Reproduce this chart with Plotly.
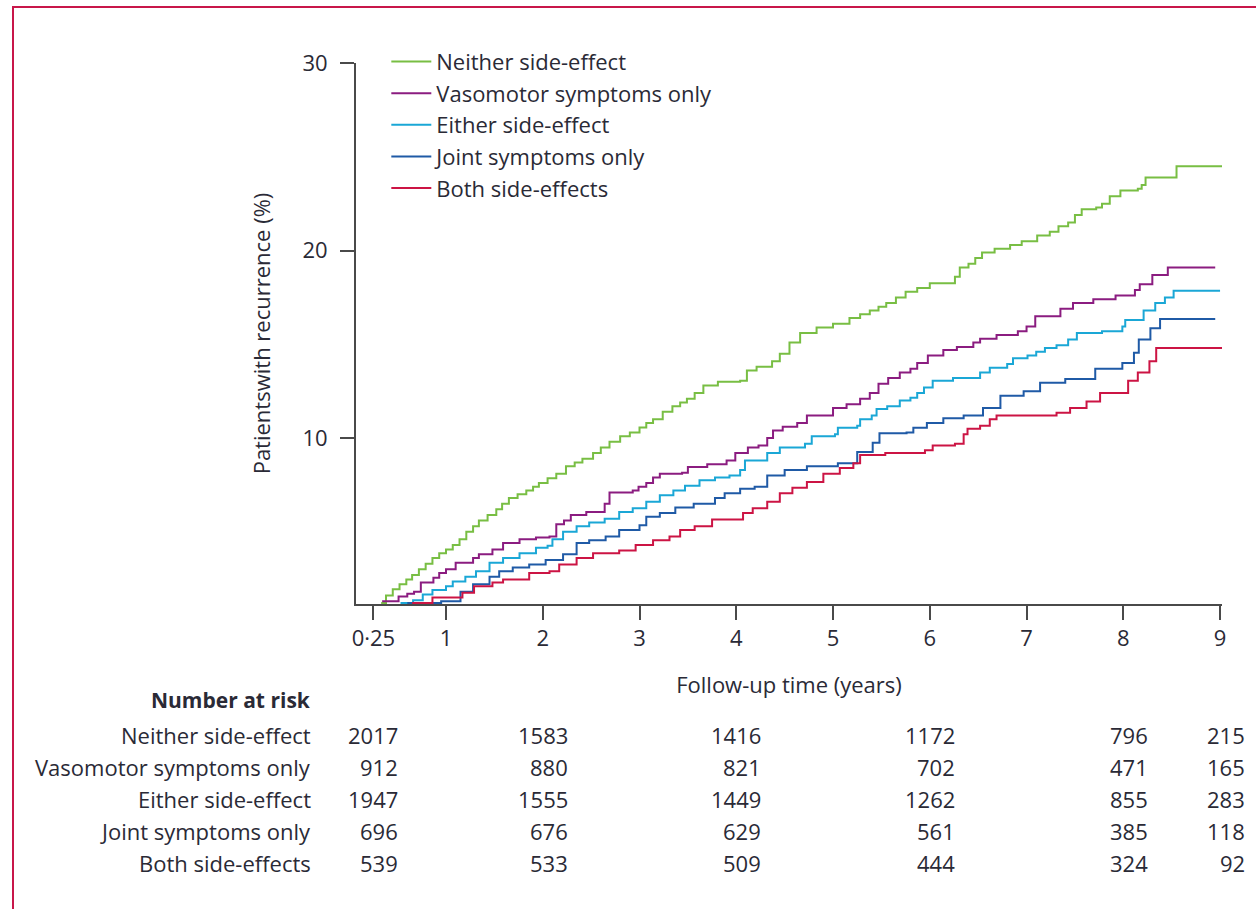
import plotly.graph_objects as go

# ---------------- data ----------------
series_names = ["Neither side-effect", "Vasomotor symptoms only", "Either side-effect",
                "Joint symptoms only", "Both side-effects"]
series_colors = ["#78BE43", "#8B1C80", "#1AA7D6", "#1F5AA6", "#CC1444"]

neither_t = [0.33, 0.38, 0.45, 0.52, 0.59, 0.65, 0.72, 0.79, 0.86, 0.93, 1.0, 1.07, 1.14, 1.21,
             1.28, 1.34, 1.43, 1.52, 1.58, 1.65, 1.74, 1.83, 1.90, 1.96, 2.05, 2.14, 2.24, 2.33,
             2.41, 2.52, 2.60, 2.69, 2.80, 2.90, 3.0, 3.07, 3.14, 3.24, 3.34, 3.42, 3.49, 3.57,
             3.66, 3.81, 4.04, 4.11, 4.21, 4.37, 4.45, 4.55, 4.66, 4.83, 5.0, 5.17, 5.28, 5.38,
             5.47, 5.55, 5.65, 5.75, 5.87, 6.0, 6.26, 6.31, 6.40, 6.47, 6.54, 6.67, 6.83, 6.95,
             7.11, 7.24, 7.33, 7.43, 7.50, 7.57, 7.72, 7.78, 7.86, 7.97, 8.15, 8.19, 8.23, 8.55, 9.02]
neither_v = [1.2, 1.6, 1.93, 2.2, 2.45, 2.7, 3.0, 3.3, 3.6, 3.85, 4.05, 4.3, 4.6, 5.0, 5.3, 5.6,
             5.9, 6.2, 6.5, 6.8, 7.0, 7.2, 7.4, 7.6, 7.85, 8.1, 8.5, 8.7, 8.9, 9.2, 9.5, 9.8, 10.1,
             10.3, 10.56, 10.8, 11.0, 11.4, 11.7, 11.9, 12.1, 12.4, 12.8, 13.0, 13.06, 13.6, 13.8,
             14.1, 14.5, 15.1, 15.6, 15.9, 16.1, 16.4, 16.6, 16.8, 17.0, 17.2, 17.5, 17.8, 18.0,
             18.25, 18.6, 19.1, 19.3, 19.6, 19.9, 20.1, 20.3, 20.5, 20.8, 21.0, 21.3, 21.5, 21.9,
             22.2, 22.3, 22.5, 22.9, 23.2, 23.3, 23.5, 23.9, 24.5, 24.5]

vaso_t = [0.34, 0.51, 0.60, 0.67, 0.74, 0.87, 0.93, 1.0, 1.1, 1.28, 1.34, 1.48, 1.59, 1.76, 1.93,
          2.07, 2.14, 2.22, 2.29, 2.45, 2.64, 2.69, 2.93, 2.99, 3.07, 3.14, 3.21, 3.44, 3.5, 3.7,
          3.9, 3.99, 4.12, 4.23, 4.32, 4.38, 4.48, 4.63, 4.73, 5.0, 5.14, 5.28, 5.38, 5.47, 5.57,
          5.69, 5.8, 5.87, 5.98, 6.14, 6.28, 6.45, 6.52, 6.69, 6.91, 7.0, 7.09, 7.35, 7.48, 7.69,
          7.92, 8.12, 8.17, 8.3, 8.46, 8.95]
vaso_v = [1.3, 1.55, 1.7, 1.8, 2.3, 2.55, 2.8, 3.0, 3.35, 3.6, 3.8, 4.05, 4.4, 4.6, 4.7, 4.75,
          5.4, 5.6, 5.9, 6.05, 6.5, 7.1, 7.2, 7.4, 7.6, 7.9, 8.1, 8.15, 8.45, 8.6, 8.8, 9.2, 9.5,
          9.6, 10.0, 10.4, 10.6, 10.8, 11.2, 11.6, 11.8, 12.1, 12.4, 12.9, 13.2, 13.5, 13.7, 14.0,
          14.4, 14.7, 14.85, 15.1, 15.3, 15.5, 15.7, 15.95, 16.5, 16.9, 17.2, 17.4, 17.6, 17.9,
          18.2, 18.7, 19.1, 19.1]

either_t = [0.53, 0.66, 0.76, 0.86, 1.0, 1.07, 1.2, 1.31, 1.45, 1.59, 1.76, 1.93, 2.05, 2.1, 2.21,
            2.35, 2.48, 2.64, 2.79, 2.93, 3.07, 3.21, 3.35, 3.47, 3.62, 3.78, 3.93, 4.04, 4.09,
            4.32, 4.45, 4.71, 4.78, 5.02, 5.05, 5.25, 5.28, 5.4, 5.45, 5.56, 5.69, 5.8, 5.87, 5.94,
            6.03, 6.24, 6.52, 6.62, 6.8, 6.86, 7.01, 7.1, 7.19, 7.31, 7.43, 7.52, 7.78, 7.99, 8.02,
            8.21, 8.33, 8.43, 8.52, 9.0]
either_v = [1.2, 1.35, 1.65, 1.9, 2.1, 2.35, 2.6, 2.9, 3.35, 3.6, 3.85, 4.15, 4.25, 4.6, 5.0, 5.3,
            5.5, 5.7, 6.05, 6.25, 6.6, 6.95, 7.2, 7.45, 7.75, 7.9, 8.0, 8.3, 8.8, 9.2, 9.5, 9.7,
            10.1, 10.2, 10.55, 10.65, 11.0, 11.2, 11.55, 11.7, 12.0, 12.15, 12.4, 12.7, 13.05, 13.2,
            13.5, 13.75, 13.95, 14.25, 14.4, 14.6, 14.8, 14.95, 15.25, 15.6, 15.7, 15.95, 16.3,
            16.8, 17.2, 17.5, 17.85, 17.85]

joint_t = [0.60, 0.95, 1.15, 1.28, 1.45, 1.55, 1.69, 1.86, 2.03, 2.21, 2.35, 2.48, 2.65, 2.79,
           3.0, 3.07, 3.21, 3.37, 3.56, 3.78, 3.88, 4.04, 4.19, 4.32, 4.5, 4.73, 5.05, 5.25, 5.41,
           5.48, 5.76, 5.83, 5.97, 6.14, 6.35, 6.55, 6.73, 6.97, 7.14, 7.4, 7.71, 7.99, 8.11, 8.16,
           8.28, 8.38, 8.95]
joint_v = [1.2, 1.3, 1.8, 2.2, 2.6, 2.9, 3.1, 3.25, 3.5, 3.8, 4.4, 4.55, 4.75, 5.1, 5.35, 5.8,
           6.0, 6.3, 6.5, 6.8, 7.05, 7.3, 7.4, 8.0, 8.3, 8.5, 8.65, 9.25, 9.75, 10.25, 10.3, 10.55,
           10.8, 11.05, 11.2, 11.6, 12.25, 12.5, 12.95, 13.15, 13.7, 14.0, 14.55, 15.25, 15.85,
           16.35, 16.35]

both_t = [0.65, 0.86, 1.17, 1.29, 1.48, 1.59, 1.86, 2.07, 2.17, 2.35, 2.52, 2.79, 2.96, 3.14,
          3.31, 3.42, 3.57, 3.75, 4.07, 4.17, 4.32, 4.45, 4.58, 4.73, 4.9, 5.07, 5.21, 5.28, 5.54,
          5.95, 6.03, 6.26, 6.35, 6.39, 6.52, 6.62, 6.69, 7.31, 7.45, 7.62, 7.76, 8.05, 8.15, 8.27,
          8.34, 9.03]
both_v = [1.2, 1.5, 1.75, 2.1, 2.3, 2.45, 2.8, 2.9, 3.25, 3.6, 3.85, 4.0, 4.3, 4.55, 4.75, 5.1,
          5.3, 5.65, 6.0, 6.25, 6.6, 7.05, 7.35, 7.65, 8.1, 8.4, 8.65, 9.1, 9.2, 9.35, 9.6, 9.7,
          10.2, 10.5, 10.65, 11.0, 11.2, 11.35, 11.6, 11.95, 12.4, 13.05, 13.5, 14.1, 14.8, 14.8]

x_tickvals = [0.25, 1, 2, 3, 4, 5, 6, 7, 8, 9]
x_ticktext = ["0·25", "1", "2", "3", "4", "5", "6", "7", "8", "9"]
y_tickvals = [10, 20, 30]

risk_times = [0.25, 2, 4, 6, 8, 9]
risk_neither = [2017, 1583, 1416, 1172, 796, 215]
risk_vaso = [912, 880, 821, 702, 471, 165]
risk_either = [1947, 1555, 1449, 1262, 855, 283]
risk_joint = [696, 676, 629, 561, 385, 118]
risk_both = [539, 533, 509, 444, 324, 92]

# ---------------- figure ----------------
FONT = "Open Sans, Liberation Sans, sans-serif"
TXT = "#2a2a36"
AX = "#4a4a4a"

curves = [(neither_t, neither_v), (vaso_t, vaso_v), (either_t, either_v),
          (joint_t, joint_v), (both_t, both_v)]

fig = go.Figure()
for i, ((t, v), name, col) in enumerate(zip(curves, series_names, series_colors)):
    fig.add_trace(go.Scatter(x=t, y=v, mode="lines", name=name, line=dict(color=col, width=2, shape="hv"),
                             legendgroup=f"g{i}", cliponaxis=True))

# number at risk table
risk_rows = [risk_neither, risk_vaso, risk_either, risk_joint, risk_both]
row_py = [735, 767, 799, 831, 863]
plot_top, plot_bot = 63, 604
H = plot_bot - plot_top

def py2paper(py):
    return (plot_bot - py) / H

annotations = [dict(text="<b>Number at risk</b>", xref="paper", yref="paper", x=(313 - 356) / 866,
                    y=py2paper(700), xanchor="right", yanchor="middle", showarrow=False,
                    font=dict(size=21, color=TXT, family=FONT))]
for name, row, py in zip(series_names, risk_rows, row_py):
    annotations.append(dict(text=name, xref="paper", yref="paper", x=(313 - 356) / 866, y=py2paper(py),
                            xanchor="right", yanchor="middle", showarrow=False,
                            font=dict(size=22, color=TXT, family=FONT)))
    for t, n in zip(risk_times, row):
        annotations.append(dict(text=str(n), xref="x", yref="paper", x=t, y=py2paper(py), xshift=27,
                                xanchor="right", yanchor="middle", showarrow=False,
                                font=dict(size=22, color=TXT, family=FONT)))

fig.update_layout(
    width=1256, height=909,
    margin=dict(l=356, r=34, t=plot_top, b=909 - plot_bot),
    paper_bgcolor="white", plot_bgcolor="white",
    font=dict(family=FONT, color=TXT, size=20),
    showlegend=True,
    legend=dict(x=0.035, y=1.041, xanchor="left", yanchor="top", bgcolor="rgba(0,0,0,0)",
                font=dict(size=22, color=TXT, family=FONT), tracegroupgap=5, itemwidth=40,
                traceorder="normal"),
    xaxis=dict(range=[0.07, 9.02], tickvals=x_tickvals, ticktext=x_ticktext, showgrid=False,
               zeroline=False, showline=True, linecolor=AX, linewidth=2, ticks="outside",
               ticklen=14, tickwidth=2, tickcolor=AX, tickfont=dict(size=22, color=TXT),
               title=dict(text="Follow-up time (years)", font=dict(size=22, color=TXT), standoff=26)),
    yaxis=dict(range=[1.15, 30], tickvals=y_tickvals, showgrid=False, zeroline=False, showline=True,
               linecolor=AX, linewidth=2, ticks="outside", ticklen=14, tickwidth=2, tickcolor=AX,
               tickfont=dict(size=22, color=TXT), ticklabelstandoff=8,
               title=dict(text="Patientswith recurrence (%)", font=dict(size=22, color=TXT), standoff=26)),
    annotations=annotations,
    shapes=[dict(type="rect", xref="paper", yref="paper", x0=(13 - 356) / 866, x1=(1275 - 356) / 866,
                 y0=py2paper(930), y1=py2paper(7), line=dict(color="#C8174A", width=2),
                 fillcolor="rgba(0,0,0,0)", layer="below")],
)

fig.write_html("out.html")
